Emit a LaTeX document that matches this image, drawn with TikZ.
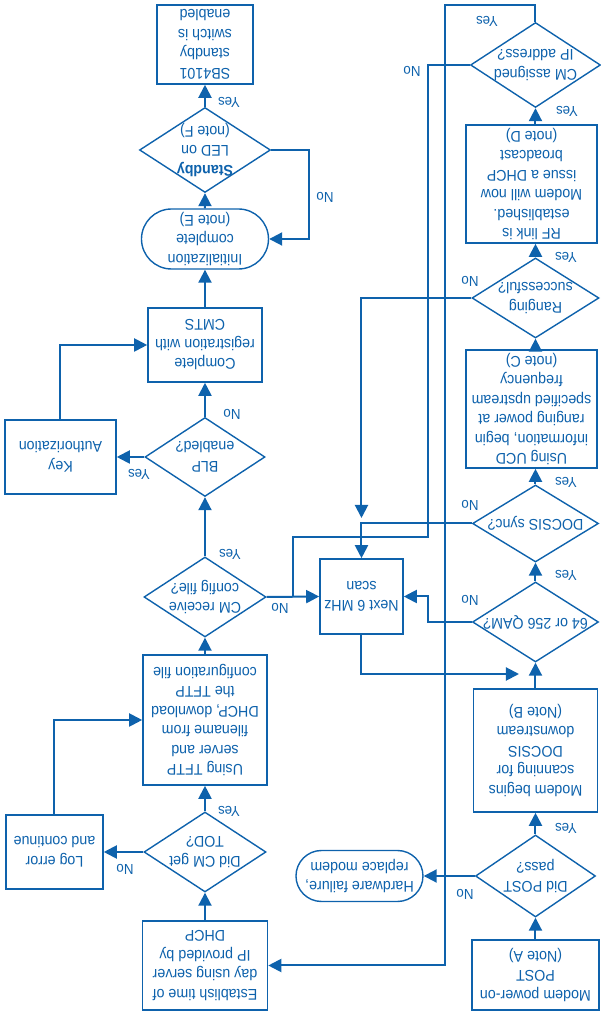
\documentclass[tikz,border=0pt]{standalone}
\usepackage{fontspec}
\setmainfont{Liberation Sans}[FakeStretch=0.92]
\usetikzlibrary{shapes.geometric,shapes.misc,arrows.meta}
\definecolor{fb}{RGB}{14,98,172}
\begin{document}
\begin{tikzpicture}[x=1pt,y=1pt,rotate=180,transform shape,
  every node/.style={text=fb},
  box/.style={draw=fb,line width=1.6pt,rectangle,align=center,inner sep=0pt,font=\fontsize{15.5}{19.5}\selectfont},
  dia/.style={draw=fb,line width=1.4pt,diamond,align=center,inner sep=-30pt,font=\fontsize{15.5}{19.5}\selectfont},
  term/.style={draw=fb,line width=1.4pt,rounded rectangle,align=center,inner sep=0pt,font=\fontsize{15.5}{19.5}\selectfont},
  lbl/.style={font=\fontsize{14.5}{16}\selectfont,inner sep=0pt},
  arr/.style={draw=fb,line width=2pt,-{Triangle[length=13pt,width=13pt]}},
  ln/.style={draw=fb,line width=2pt}]
\useasboundingbox (0,0) rectangle (600,-1015);
% left column (upright)
\node[box,minimum width=127pt,minimum height=70pt] (power) at (64.5,-40) {Modem power-on\\POST\\(Note A)};
\node[dia,minimum width=120pt,minimum height=82pt] (post) at (64.5,-139) {Did POST\\pass?};
\node[term,minimum width=127pt,minimum height=51pt] (hw) at (240.5,-139) {Hardware failure,\\replace modem};
\node[box,minimum width=124pt,minimum height=123pt] (scan) at (64.5,-264.5) {Modem begins\\scanning for\\DOCSIS\\downstream\\(Note B)};
\node[dia,minimum width=126pt,minimum height=80pt] (qam) at (64.5,-393) {64 or 256 QAM?};
\node[box,minimum width=83pt,minimum height=75pt] (next) at (238.5,-418.5) {Next 6 MHz\\scan};
\node[dia,minimum width=126pt,minimum height=77pt] (sync) at (64.5,-491.5) {DOCSIS sync?};
\node[box,minimum width=131pt,minimum height=118pt] (ucd) at (68.5,-606) {Using UCD\\information, begin\\ranging power at\\specified upstream\\frequency\\(note C)};
\node[dia,minimum width=127pt,minimum height=80pt] (rng) at (64.5,-717) {Ranging\\successful?};
\node[box,minimum width=131pt,minimum height=118pt] (rf) at (68.5,-831) {RF link is\\established.\\Modem will now\\issue a DHCP\\broadcast\\(note D)};
\node[dia,minimum width=130pt,minimum height=85pt] (ip) at (64.5,-950) {CM assigned\\IP address?};
% right column (upright)
\node[box,minimum width=125pt,minimum height=89pt] (tod) at (395,-49.5) {Establish time of\\day using server\\IP provided by\\DHCP};
\node[dia,minimum width=122pt,minimum height=80pt] (todq) at (395,-163) {Did CM get\\TOD?};
\node[box,minimum width=97pt,minimum height=74pt] (log) at (545.5,-163) {Log error\\and continue};
\node[box,minimum width=124pt,minimum height=130pt] (tftp) at (395,-295) {Using TFTP\\server and\\filename from\\DHCP, download\\the TFTP\\configuration file};
\node[dia,minimum width=122pt,minimum height=80pt] (cfg) at (395,-418) {CM receive\\config file?};
\node[dia,minimum width=120pt,minimum height=79pt] (blp) at (395,-558) {BLP\\enabled?};
\node[box,minimum width=111pt,minimum height=74pt] (key) at (539.5,-558) {Key\\Authorization};
\node[box,minimum width=114pt,minimum height=74pt] (reg) at (395,-670) {Complete\\registration with\\CMTS};
\node[term,minimum width=127pt,minimum height=60pt] (init) at (395,-776) {Initialization\\complete\\(note E)};
\node[dia,minimum width=131pt,minimum height=85pt] (stb) at (395,-865) {\textbf{Standby}\\LED on\\(note F)};
\node[box,minimum width=96pt,minimum height=79pt] (sb) at (395,-970.5) {SB4101\\standby\\switch is\\enabled};
% coordinates
\coordinate (j1) at (81,-341);
\coordinate (j2) at (238.5,-497);
\coordinate (c1) at (155,-1010);
\coordinate (c2) at (172,-478);
\coordinate (c3) at (307,-418);
% connectors left column
\draw[arr] (power) -- (post);
\draw[arr] (post) -- (hw);
\draw[arr] (post) -- (scan);
\draw[arr] (scan) -- (qam);
\draw[arr] (next.north) |- (j1);
\draw[arr] (qam.east) -- ++(44,0) |- (next.west);
\draw[arr] (qam) -- (sync);
\draw[arr] (sync.south) -- (sync.south |- ucd.north);
\draw[arr] (sync.east) -| (next.south);
\draw[arr] (rng.north |- ucd.south) -- (rng.north);
\draw[arr] (rng.east) -| (j2);
\draw[arr] (rng.south) -- (rng.south |- rf.north);
\draw[arr] (ip.north |- rf.south) -- (ip.north);
\draw[arr] (ip.south) |- (c1) |- (tod.west);
\draw[ln] (ip.east) -| (c2) -| (c3);
\draw[arr] (cfg.west) -- (next.east);
% connectors right column
\draw[arr] (tod) -- (todq);
\draw[arr] (todq) -- (log);
\draw[arr] (todq) -- (tftp);
\draw[arr] (log.south) |- (tftp.east);
\draw[arr] (tftp) -- (cfg);
\draw[arr] (cfg) -- (blp);
\draw[arr] (blp) -- (key);
\draw[arr] (blp) -- (reg);
\draw[arr] (key.south) |- (reg.east);
\draw[arr] (reg) -- (init);
\draw[arr] (init) -- (stb);
\draw[arr] (stb) -- (sb);
\draw[arr] (stb.west) -- ++(-38,0) |- (init.west);
% labels
\node[lbl] (l1) at (135,-121) {No};
\node[lbl] (l2) at (34,-187) {Yes};
\node[lbl] (l3) at (130,-415) {No};
\node[lbl] (l4) at (34,-440) {Yes};
\node[lbl] (l5) at (130,-510) {No};
\node[lbl] (l6) at (34,-533) {Yes};
\node[lbl] (l7) at (130,-734) {No};
\node[lbl] (l8) at (34,-758) {Yes};
\node[lbl] (l9) at (33,-904) {Yes};
\node[lbl] (l10) at (113,-994) {Yes};
\node[lbl] (l11) at (188,-944) {No};
\node[lbl] (l12) at (320,-407) {No};
\node[lbl] (l13) at (475,-146) {No};
\node[lbl] (l14) at (371,-204) {Yes};
\node[lbl] (l15) at (370,-461) {Yes};
\node[lbl] (l16) at (461,-541) {Yes};
\node[lbl] (l17) at (368,-601) {No};
\node[lbl] (l18) at (371,-913) {Yes};
\node[lbl] (l19) at (275,-818) {No};
\end{tikzpicture}
\end{document}
